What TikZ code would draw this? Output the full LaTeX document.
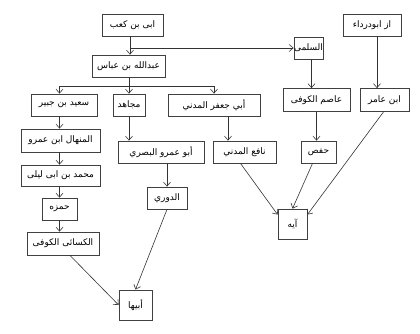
\documentclass[tikz,border=0pt]{standalone}
\usepackage{fontspec}
\newfontfamily\arabicfont[Script=Arabic]{DejaVu Sans}
\TeXXeTstate=1
\usetikzlibrary{arrows.meta}
\newcommand{\artxt}[1]{\beginR #1\endR}
\tikzset{
	box/.style={draw=black!75, line width=0.8pt, minimum height=22pt, inner sep=0pt,
		font=\arabicfont\fontsize{9}{11}\selectfont},
	arr/.style={draw=black!80, line width=0.6pt, -{Straight Barb[length=4pt,width=7pt]}},
	ln/.style={draw=black!80, line width=0.6pt}
}
\begin{document}
\begin{tikzpicture}[x=1pt,y=-1pt]
				\useasboundingbox[fill=white] (0,0) rectangle (420,333);
				\node[box, minimum width=61pt] (ubay) at (132.5,25) {\artxt{ابی بن کعب}};
				\node[box, minimum width=73pt] (ibn) at (128.5,66) {\artxt{عبدالله بن عباس}};
				\node[box, minimum width=58pt] (darda) at (372,25) {\artxt{از ابودرداء}};
				\node[box, minimum width=29pt] (solami) at (308.5,48) {\artxt{السلمی}};
				\node[box, minimum width=67pt, minimum height=23pt] (asim) at (316.5,100) {\artxt{عاصم الکوفی}};
				\node[box, minimum width=49pt, minimum height=23pt] (ibnamir) at (384.5,100) {\artxt{ابن عامر}};
				\node[box, minimum width=66pt] (said) at (64,105) {\artxt{سعید بن جبیر}};
				\node[box, minimum width=32pt] (mujahid) at (129,105) {\artxt{مجاهد}};
				\node[box, minimum width=92pt] (jafar) at (214,105) {\artxt{أبي جعفر المدني}};
				\node[box, minimum width=79pt, minimum height=23pt] (minhal) at (60.5,140.5) {\artxt{المنهال ابن عمرو}};
				\node[box, minimum width=79pt, minimum height=21pt] (muhammad) at (60.5,175.5) {\artxt{محمد بن ابی لیلی}};
				\node[box, minimum width=35pt] (hamza) at (59.5,209) {\artxt{حمزه}};
				\node[box, minimum width=72pt, minimum height=23pt] (kisai) at (63,243.5) {\artxt{الکسائی الکوفی}};
				\node[box, minimum width=33pt, minimum height=30pt] (abiha) at (135.5,305) {\artxt{أبيها}};
				\node[box, minimum width=86pt] (abuamr) at (161,152) {\artxt{أبو عمرو البصري}};
				\node[box, minimum width=40pt] (duri) at (167,198) {\artxt{الدوري}};
				\node[box, minimum width=63pt] (nafi) at (244.5,152) {\artxt{نافع المدني}};
				\node[box, minimum width=35pt] (hafs) at (318.5,152) {\artxt{حفص}};
				\node[box, minimum width=29pt, minimum height=30pt] (aye) at (292.5,224) {\artxt{آيه}};
				\coordinate (j1) at (130,48);
				\coordinate (j2) at (129,86);
				\draw[arr] (ubay.south -| j1) -- (ibn.north -| j1);
				\draw[arr] (j1) -- (solami.west);
				\draw[ln] (ibn.south -| j2) -- (j2);
				\draw[ln] (j2 -| hamza) -- (j2 -| jafar);
				\draw[arr] (j2 -| hamza) -- (said.north -| hamza);
				\draw[arr] (j2 -| mujahid) -- (mujahid.north);
				\draw[arr] (j2 -| jafar) -- (jafar.north);
				\draw[arr] (said.south -| hamza) -- (minhal.north -| hamza);
				\draw[arr] (minhal.south -| hamza) -- (muhammad.north -| hamza);
				\draw[arr] (muhammad.south -| hamza) -- (hamza.north);
				\draw[arr] (hamza.south) -- (kisai.north -| hamza);
				\draw[arr] (mujahid.south) -- (mujahid.south |- abuamr.north);
				\draw[arr] (abuamr.south -| duri) -- (duri.north);
				\draw[arr] ([xshift=14pt]jafar.south) -- ([xshift=14pt]jafar.south |- nafi.north);
				\draw[arr] ([xshift=3pt]solami.south) -- ([xshift=3pt]solami.south |- asim.north);
				\draw[arr] (asim.south) -- (asim.south |- hafs.north);
				\draw[arr] ([xshift=5pt]darda.south) -- ([xshift=5pt]darda.south |- ibnamir.north);
				\draw[arr] ([xshift=7pt]kisai.south) -- (abiha.west);
				\draw[arr] (duri.south) -- (abiha.north);
				\draw[arr] ([xshift=-4pt]nafi.south) -- ([yshift=-6pt]aye.north west);
				\draw[arr] ([xshift=-6pt]hafs.south) -- (aye.north);
				\draw[arr] ([xshift=-1pt]ibnamir.south) -- ([yshift=-6pt]aye.north east);
\end{tikzpicture}
\end{document}
